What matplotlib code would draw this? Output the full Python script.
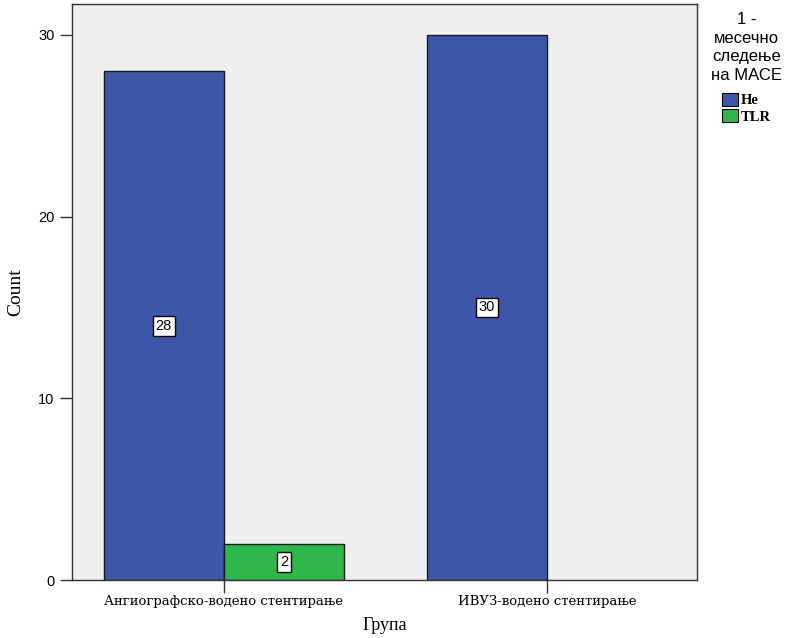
import matplotlib
matplotlib.use("Agg")
import matplotlib.pyplot as plt
import numpy as np
from matplotlib.patches import Patch

groups = ["Ангиографско-водено стентирање", "ИВУЗ-водено стентирање"]
series = ["Не", "TLR"]
counts_ne = [28, 30]
counts_tlr = [2, 0]
colors = ["#3D56A8", "#2EB84B"]

fig = plt.figure(figsize=(7.94, 6.38), dpi=100)
ax = fig.add_axes([0.0907, 0.0909, 0.7875, 0.9028])
ax.set_facecolor("#EFEFEF")

x = np.arange(len(groups))
w = 0.372
for i, (vals, col) in enumerate(zip([counts_ne, counts_tlr], colors)):
    offs = -w / 2 if i == 0 else w / 2
    for xi, v in zip(x, vals):
        if v <= 0:
            continue
        ax.bar(xi + offs, v, width=w, color=col, edgecolor="#1a1a1a", linewidth=1.0, zorder=2)
        ax.text(xi + offs, v / 2, f"{v}", ha="center", va="center", fontsize=10.5,
                family="Liberation Sans", zorder=3,
                bbox=dict(boxstyle="square,pad=0.2", facecolor="white", edgecolor="black", linewidth=1.0))

ax.set_xlim(-0.47, 1.465)
ax.set_ylim(0, 31.7)
ax.set_yticks([0, 10, 20, 30])
ax.set_yticklabels(["0", "10", "20", "30"], family="Liberation Sans", fontsize=10.5)
ax.set_xticks(x)
ax.set_xticklabels(groups, family="DejaVu Serif", fontsize=9.5)
ax.tick_params(axis="both", direction="out", length=9, width=1.0, color="#333333")
ax.tick_params(axis="x", pad=2)
for s in ax.spines.values():
    s.set_color("#333333")
    s.set_linewidth(1.0)

ax.set_ylabel("Count", family="Liberation Serif", fontsize=14, labelpad=10)
ax.set_xlabel("Група", family="Liberation Serif", fontsize=13, labelpad=6)

handles = [Patch(facecolor=c, edgecolor="black", linewidth=0.8) for c in colors]
leg = fig.legend(handles, series, loc="upper center", bbox_to_anchor=(0.94, 0.997),
                 title="1 -\nмесечно\nследење\nна МАСЕ", frameon=False,
                 prop=dict(family="Liberation Serif", size=10.5, weight="bold"),
                 handlelength=1.1, handleheight=1.0, handletextpad=0.2,
                 labelspacing=0.15, borderpad=0.2)
leg.get_title().set_fontfamily("Liberation Sans")
leg.get_title().set_fontsize(12)
leg.get_title().set_multialignment("center")
leg.get_title().set_linespacing(1.3)
# extra gap between the legend title and its entries
leg._legend_box.sep = 7

fig.savefig("out.png", dpi=100)
